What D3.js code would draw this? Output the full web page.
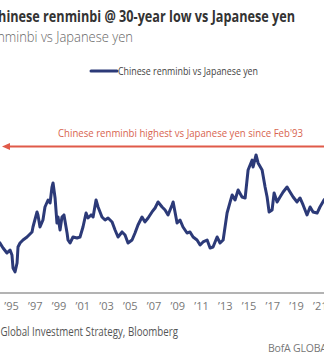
<!DOCTYPE html>
<html>
<head>
<meta charset="utf-8">
<script src="https://cdn.jsdelivr.net/npm/d3@7"></script>
<style>
  html, body { margin: 0; padding: 0; background: #fff; }
  svg { display: block; }
  text { font-family: "Open Sans", "Noto Sans", sans-serif; }
</style>
</head>
<body>
<svg id="chart" width="324" height="364"></svg>
<script>
// ---- Data (CNY/JPY, decimal years) ----
const dates = [1993.9, 1994.07, 1994.33, 1994.66, 1994.92, 1995.08, 1995.17, 1995.34, 1995.51, 1995.59, 1995.76,
  1996.01, 1996.35, 1996.77, 1996.85, 1997.19, 1997.27, 1997.44, 1997.69, 1997.86, 1998.12, 1998.29,
  1998.45, 1998.54, 1998.71, 1998.87, 1998.96, 1999.13, 1999.29, 1999.46, 1999.72, 1999.80, 1999.97,
  2000.22, 2000.56, 2000.81, 2001.06, 2001.32, 2001.48, 2001.74, 2001.91, 2002.16, 2002.33, 2002.66,
  2002.92, 2003.17, 2003.51, 2003.76, 2004.01, 2004.35, 2004.60, 2004.85, 2005.19, 2005.44, 2005.69,
  2006.03, 2006.28, 2006.54, 2006.87, 2007.13, 2007.38, 2007.72, 2007.97, 2008.22, 2008.56, 2008.65,
  2008.98, 2009.23, 2009.48, 2009.82, 2010.07, 2010.33, 2010.66, 2010.92, 2011.17, 2011.51, 2011.76,
  2012.01, 2012.35, 2012.60, 2012.86, 2013.19, 2013.45, 2013.62, 2013.86, 2014.12, 2014.45, 2014.71,
  2014.96, 2015.30, 2015.38, 2015.63, 2015.80, 2016.14, 2016.39, 2016.56, 2016.73, 2016.98, 2017.15,
  2017.40, 2017.65, 2017.91, 2018.24, 2018.49, 2018.75, 2019.08, 2019.33, 2019.59, 2019.92, 2020.18,
  2020.43, 2020.77, 2021.01, 2021.35, 2021.5];
const values = [12.3, 12.11, 11.65, 11.18, 11.46, 11.00, 9.79, 9.42, 10.25, 11.74, 12.11,
  12.39, 12.67, 13.14, 13.60, 15.00, 14.72, 13.60, 14.25, 15.46, 16.11, 15.83,
  17.32, 17.70, 16.30, 13.97, 14.53, 13.32, 14.53, 14.72, 13.04, 12.39, 12.11,
  12.67, 12.58, 12.67, 13.60, 14.90, 14.44, 14.72, 14.53, 16.11, 15.46, 14.53,
  14.25, 14.44, 14.07, 13.32, 12.67, 13.14, 12.86, 12.11, 12.39, 13.04, 13.79,
  14.53, 14.07, 14.44, 15.00, 15.37, 15.93, 15.46, 15.18, 14.72, 15.65, 15.93,
  13.97, 14.25, 13.60, 13.04, 13.14, 12.67, 12.39, 11.93, 12.21, 12.39, 11.65,
  11.74, 12.67, 12.11, 12.39, 14.90, 15.93, 16.58, 16.11, 17.04, 16.39, 16.30,
  18.90, 19.83, 19.18, 20.30, 19.56, 18.90, 17.32, 16.39, 15.00, 15.18, 16.77,
  15.93, 16.39, 16.86, 17.32, 16.86, 16.39, 15.93, 16.30, 15.65, 14.72, 15.46,
  15.00, 14.90, 15.46, 16.11, 16.3];
const highLevel = 21.1; // highest since Feb'93
const tickYears = [1995, 1997, 1999, 2001, 2003, 2005, 2007, 2009, 2011, 2013, 2015, 2017, 2019, 2021];

const titleText = "Chinese renminbi @ 30-year low vs Japanese yen";
const subtitleText = "Chinese renminbi vs Japanese yen";
const legendText = "Chinese renminbi vs Japanese yen";
const annotationText = "Chinese renminbi highest vs Japanese yen since Feb'93";
const sourceText = "Source: BofA Global Investment Strategy, Bloomberg";
const brandText = "BofA GLOBAL RESEARCH";

// ---- Drawing ----
const svg = d3.select("#chart");
const W = 324, H = 364;
const navy = "#2c3a78";
const red = "#e05a49";

svg.append("rect").attr("width", W).attr("height", H).attr("fill", "#fff");

const x = d3.scaleLinear().domain([1994.074, 2021.35]).range([0, W]);
const y = d3.scaleLinear().domain([8, 22]).range([287.2, 136.7]);

// Title & subtitle (left part cropped)
svg.append("text").attr("x", 295).attr("y", 22).attr("text-anchor", "end")
  .attr("textLength", 305).attr("lengthAdjust", "spacingAndGlyphs")
  .attr("font-size", 15.5).attr("font-weight", 700).attr("fill", "#333")
  .text(titleText);
svg.append("text").attr("x", 133).attr("y", 42).attr("text-anchor", "end")
  .attr("textLength", 198).attr("lengthAdjust", "spacingAndGlyphs")
  .attr("font-size", 14.5).attr("font-weight", 300).attr("fill", "#666")
  .text(subtitleText);

// Legend
svg.append("line").attr("x1", 91).attr("x2", 117).attr("y1", 71).attr("y2", 71)
  .attr("stroke", navy).attr("stroke-width", 3).attr("stroke-linecap", "round");
svg.append("text").attr("x", 118).attr("y", 75)
  .attr("textLength", 140).attr("lengthAdjust", "spacingAndGlyphs")
  .attr("font-size", 11).attr("fill", "#444").text(legendText);

// Annotation: highest level line with arrow
const yHigh = y(highLevel);
svg.append("line").attr("x1", 6).attr("x2", W).attr("y1", yHigh).attr("y2", yHigh)
  .attr("stroke", red).attr("stroke-width", 2);
svg.append("path")
  .attr("d", `M2,${yHigh} L10,${yHigh - 3.5} L10,${yHigh + 3.5} Z`)
  .attr("fill", red);
svg.append("text").attr("x", 303).attr("y", yHigh - 9).attr("text-anchor", "end")
  .attr("textLength", 245).attr("lengthAdjust", "spacingAndGlyphs")
  .attr("font-size", 11.5).attr("fill", "#d8644f").text(annotationText);

// Series line
const data = dates.map((d, i) => ({ t: d, v: values[i] }));
const line = d3.line().x(d => x(d.t)).y(d => y(d.v));
svg.append("path").datum(data).attr("d", line)
  .attr("fill", "none").attr("stroke", navy).attr("stroke-width", 3)
  .attr("stroke-linejoin", "round");

// X axis
const axis = d3.axisBottom(x).tickValues(tickYears).tickSize(0).tickPadding(9)
  .tickFormat(d => "\u2019" + String(d).slice(2));
const gx = svg.append("g").attr("transform", "translate(0,293)").call(axis);
gx.select(".domain").attr("stroke", "#9a9a9a").attr("stroke-width", 1.5).attr("d", `M-5,0H${W + 5}`);
gx.selectAll("text").attr("font-size", 11).attr("fill", "#777")
  .attr("font-family", "\"Open Sans\", sans-serif");

// Source & brand
svg.append("text").attr("x", 178).attr("y", 336).attr("text-anchor", "end")
  .attr("textLength", 238).attr("lengthAdjust", "spacingAndGlyphs")
  .attr("font-size", 12).attr("fill", "#555").text(sourceText);
svg.append("text").attr("x", 268).attr("y", 352)
  .attr("font-size", 10.5).attr("fill", "#777").attr("letter-spacing", -0.2).text(brandText);
</script>
</body>
</html>
